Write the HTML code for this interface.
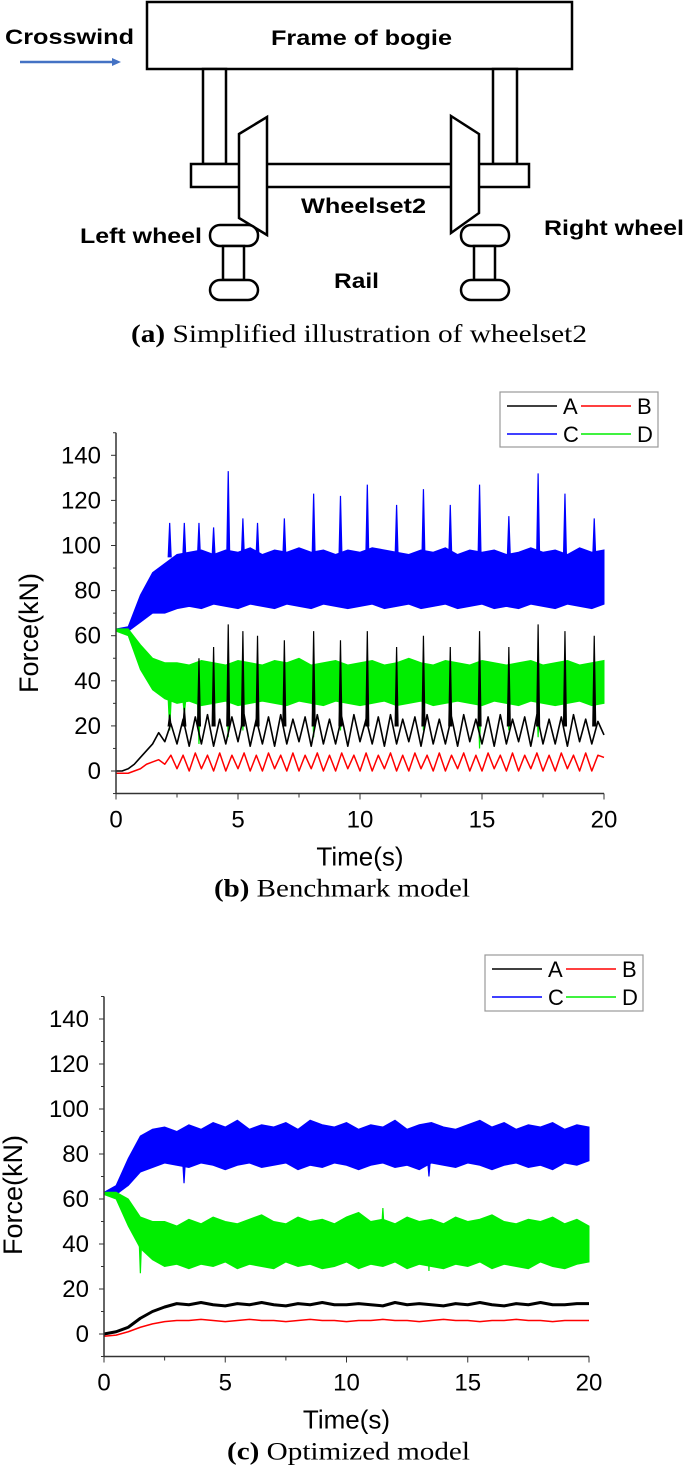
<!DOCTYPE html>
<html><head><meta charset="utf-8"><style>
body{margin:0;background:#fff}
svg text{font-family:"Liberation Sans",Arial,sans-serif}
.serif{font-family:"Liberation Serif","Times New Roman",serif}
</style></head><body>
<svg id="fig" width="685" height="1477" viewBox="0 0 685 1477" xmlns="http://www.w3.org/2000/svg">
<g fill="#fff" stroke="#000" stroke-width="2.5">
  <rect x="147" y="2" width="425" height="67"/>
  <rect x="203" y="69" width="23" height="95"/>
  <rect x="493" y="69" width="24" height="95"/>
  <rect x="191" y="164" width="338" height="23"/>
  <polygon points="239,134 267,117 267,235 239,218"/>
  <polygon points="451,116 479,134 479,213 451,233"/>
  <rect x="210" y="225" width="48" height="21" rx="10"/>
  <rect x="223" y="246" width="21" height="34"/>
  <rect x="210" y="280" width="48" height="20" rx="10"/>
  <rect x="461" y="225" width="48" height="21" rx="10"/>
  <rect x="474" y="246" width="21" height="34"/>
  <rect x="461" y="280" width="48" height="20" rx="10"/>
</g>
<line x1="20" y1="62" x2="114" y2="62" stroke="#4472c4" stroke-width="2.5"/>
<polygon points="112,58 121,62 112,66" fill="#4472c4"/>
<g font-weight="bold" font-size="21" fill="#000">
  <text x="5" y="44" textLength="129" lengthAdjust="spacingAndGlyphs">Crosswind</text>
  <text x="271" y="45" textLength="181" lengthAdjust="spacingAndGlyphs">Frame of bogie</text>
  <text x="301" y="213" textLength="125" lengthAdjust="spacingAndGlyphs">Wheelset2</text>
  <text x="80" y="243" textLength="122" lengthAdjust="spacingAndGlyphs">Left wheel</text>
  <text x="544" y="235" textLength="140" lengthAdjust="spacingAndGlyphs">Right wheel</text>
  <text x="334" y="288" textLength="45" lengthAdjust="spacingAndGlyphs">Rail</text>
</g>
<text class="serif" x="131" y="342" font-size="25" textLength="456" lengthAdjust="spacingAndGlyphs"><tspan font-weight="bold">(a)</tspan> Simplified illustration of wheelset2</text>
<g id="chartB"></g>
<g id="chartC"></g>
</svg>
<script>
// ---- Chart (b) data ----
const bTimes=[0,0.5,1,1.5,2,2.5,3,3.5,4,4.5,5,5.5,6,6.5,7,7.5,8,8.5,9,9.5,10,10.5,11,11.5,12,12.5,13,13.5,14,14.5,15,15.5,16,16.5,17,17.5,18,18.5,19,19.5,20];
const bCHigh=[63,64,78,88,92,96,97,98,96,98,97,99,96,98,97,99,97,98,96,98,97,99,98,97,96,98,97,99,96,98,97,98,96,97,99,97,98,96,99,97,98];
const bCLow=[62,62,66,70,70,72,73,72,74,73,72,74,73,72,74,73,72,74,73,72,73,74,72,73,74,72,73,74,72,73,74,72,73,72,74,73,72,74,73,72,74];
const bDHigh=[63,63,56,50,48,48,47,49,48,47,49,48,47,49,48,50,47,48,49,47,48,49,47,48,50,48,47,49,48,47,49,48,47,48,49,47,48,49,47,48,49];
const bDLow=[62,60,45,36,32,30,31,29,30,31,29,30,31,30,29,31,30,29,31,30,29,30,31,29,30,31,29,30,31,30,29,31,30,29,31,30,29,30,31,29,30];
const bSpikeTimes=[2.2,2.8,3.4,4.0,4.6,5.2,5.8,6.9,8.1,9.2,10.3,11.5,12.6,13.7,14.9,16.1,17.3,18.4,19.6];
const bCSpikes=[110,110,110,108,133,112,110,112,123,122,127,118,125,118,127,113,132,123,112];
const bASpikes=[25,28,50,55,65,62,60,58,62,58,62,55,60,55,62,55,65,62,60];
const bDSpikes=[18,25,12,20,15,18,22,20,15,18,20,22,18,20,10,18,15,20,20];
const bA=[0,0,1,3,6,9,12,17,13,21,12,23,11,24,12,25,11,23,12,24,13,25,11,23,12,24,11,25,12,23,13,24,11,25,12,23,12,24,11,25,13,23,12,24,11,25,12,23,13,24,11,25,12,23,12,24,11,25,13,23,12,24,11,25,12,23,13,24,11,25,12,23,12,24,11,25,13,23,12,22,16];
const bB=[-1,-1,-1,0,1,3,4,5,3,7,1,7,0,8,1,7,0,8,0,7,1,8,0,7,0,8,1,7,0,8,0,7,1,8,0,7,0,8,1,7,0,8,0,7,1,8,0,7,0,8,1,7,0,8,0,7,1,8,0,7,0,8,1,7,0,8,0,7,1,8,0,7,0,8,1,7,0,8,0,7,6];
// ---- Chart (c) data ----
const cTimes=bTimes;
const cA=[0,1,3,7,10,12,13.5,13,14,13,12.5,13.5,13,14,13,12.5,13.5,13,14,13,13,13.5,13,12.5,14,13,13.5,13,12.5,13.5,13,14,13,12.5,13.5,13,14,13,13,13.5,13.5];
const cB=[-1,-0.5,1,3,4.5,5.5,6,6,6.5,6,5.5,6,6.5,6,6,5.5,6,6.5,6,6,5.5,6,6,6.5,6,6,5.5,6,6.5,6,6,5.5,6,6,6.5,6,6,5.5,6,6,6];
const cCHigh=[63,66,78,88,91,92,90,93,91,94,92,95,91,93,92,94,91,95,93,92,94,91,93,92,95,91,93,94,92,91,93,95,92,94,91,93,92,94,91,93,92];
const cCLow=[62,62,66,72,74,76,75,74,76,75,73,75,76,74,75,76,73,75,74,76,75,73,75,76,74,75,73,76,75,74,76,75,73,75,76,74,75,73,76,75,77];
const cDHigh=[63,63,60,52,50,50,48,51,49,52,50,49,51,53,50,49,52,50,51,49,52,54,50,51,49,52,50,51,49,52,50,51,53,50,49,51,50,52,49,51,48];
const cDLow=[62,60,48,38,33,30,31,29,31,30,32,29,31,30,29,32,30,31,29,30,32,29,31,30,32,29,31,30,29,31,30,32,29,31,30,29,32,30,29,31,32];
const cSpikeTimes=[1.5,3.3,11.5,13.4];
const cCSpikes=[82,67,84,70];
const cDSpikes=[27,40,56,28];
const yTicks=[0,20,40,60,80,100,120,140];
const xTicks=[0,5,10,15,20];

const NS="http://www.w3.org/2000/svg";
function mk(parent,tag,attrs,text){const e=document.createElementNS(NS,tag);for(const k in attrs)e.setAttribute(k,attrs[k]);if(text!==undefined)e.textContent=text;parent.appendChild(e);return e;}

function drawChart(g,cfg){
  const X=t=>cfg.x0+(t/20)*(cfg.x1-cfg.x0);
  const Y=v=>cfg.yz-v*cfg.k;
  const axY=Y(-10), topY=Y(150);
  function band(times,hi,lo,color,name){
    let p=[];for(let i=0;i<times.length;i++)p.push(X(times[i])+','+Y(hi[i]));
    for(let i=times.length-1;i>=0;i--)p.push(X(times[i])+','+Y(lo[i]));
    const e=mk(g,'polygon',{points:p.join(' '),fill:color,stroke:color,'stroke-width':1});
    
    
  }
  function spikes(times,vals,base,color,name){
    for(let i=0;i<times.length;i++){
      const t=times[i];
      const e=mk(g,'polygon',{points:X(t-0.06)+','+Y(base)+' '+X(t)+','+Y(vals[i])+' '+X(t+0.06)+','+Y(base),fill:color,stroke:color,'stroke-width':1.2});
      
      
    }
  }
  function line(vals,color,w,name){
    const n=vals.length;let p=[];
    for(let i=0;i<n;i++)p.push(X(i*20/(n-1))+','+Y(vals[i]));
    const e=mk(g,'polyline',{points:p.join(' '),fill:'none',stroke:color,'stroke-width':w,'stroke-linejoin':'round'});
    
    
  }
  band(cfg.t,cfg.cHi,cfg.cLo,'#0000ff','series-c-band');
  spikes(cfg.st,cfg.cSp,cfg.cBase,'#0000ff','series-c-spike');
  band(cfg.t,cfg.dHi,cfg.dLo,'#00ee00','series-d-band');
  spikes(cfg.st,cfg.dSp,cfg.dBase,'#00ee00','series-d-spike');
  if(cfg.aSp)spikes(cfg.st,cfg.aSp,20,'#000','series-a-spike');
  line(cfg.a,'#000',cfg.aw,'series-a-line');
  line(cfg.b,'#ff0000',1.5,'series-b-line');
  const ya=mk(g,'line',{x1:cfg.x0,y1:topY,x2:cfg.x0,y2:axY,stroke:'#333','stroke-width':1.5});
  
  
  const xa=mk(g,'line',{x1:cfg.x0,y1:axY,x2:cfg.x1,y2:axY,stroke:'#333','stroke-width':1.5});
  
  
  for(let v=-10;v<=150;v+=10){
    const major=yTicks.indexOf(v)>=0;
    mk(g,'line',{x1:cfg.x0-(major?5:3),y1:Y(v),x2:cfg.x0,y2:Y(v),stroke:'#333','stroke-width':1});
  }
  yTicks.forEach(v=>{
    const e=mk(g,'text',{x:cfg.x0-15,y:Y(v)+8,'text-anchor':'end','font-size':24,fill:'#000'},String(v));
    
    
  });
  for(let t=0;t<=20;t+=2.5){
    const major=xTicks.indexOf(t)>=0;
    mk(g,'line',{x1:X(t),y1:axY,x2:X(t),y2:axY+(major?6:4),stroke:'#333','stroke-width':1});
  }
  xTicks.forEach(t=>{
    const e=mk(g,'text',{x:X(t),y:axY+34,'text-anchor':'middle','font-size':24,fill:'#000'},String(t));
    
    
  });
  const xt=mk(g,'text',{x:(cfg.x0+cfg.x1)/2,y:axY+72,'text-anchor':'middle','font-size':26,fill:'#000'},'Time(s)');
  
  
  const yt=mk(g,'text',{x:0,y:0,transform:'translate('+cfg.ylx+','+cfg.yly+') rotate(-90)','text-anchor':'middle','font-size':27,fill:'#000'},'Force(kN)');
  
  
  const L=cfg.leg;
  const lb=mk(g,'rect',{x:L.x,y:L.y,width:L.w,height:L.h,fill:'#fff',stroke:'#999','stroke-width':1.2});
  
  
  const ents=[['A','#000',0,0],['B','#ff0000',1,0],['C','#0000ff',0,1],['D','#00ee00',1,1]];
  ents.forEach(en=>{
    const lx=L.x+7+en[2]*74, ly=L.y+14+en[3]*28;
    mk(g,'line',{x1:lx,y1:ly,x2:lx+50,y2:ly,stroke:en[1],'stroke-width':1.5});
    const e=mk(g,'text',{x:lx+56,y:ly+8,'font-size':22,fill:'#000'},en[0]);
    
    
  });
  const cap=mk(g,'text',{x:cfg.capX,y:axY+103,'font-size':25,fill:'#000','class':'serif',textLength:cfg.capW,lengthAdjust:'spacingAndGlyphs'});
  
  
  mk(cap,'tspan',{'font-weight':'bold'},cfg.capB);
  mk(cap,'tspan',{},cfg.capT);
}
drawChart(document.getElementById('chartB'),{x0:116,x1:604,yz:771,k:2.255,t:bTimes,cHi:bCHigh,cLo:bCLow,dHi:bDHigh,dLo:bDLow,st:bSpikeTimes,cSp:bCSpikes,cBase:95,dSp:bDSpikes,dBase:32,aSp:bASpikes,a:bA,b:bB,aw:1.6,ylx:38,yly:633,leg:{x:500,y:392,w:158,h:55},capX:214,capW:256,capB:'(b)',capT:' Benchmark model'});
drawChart(document.getElementById('chartC'),{x0:104,x1:589,yz:1334,k:2.25,t:cTimes,cHi:cCHigh,cLo:cCLow,dHi:cDHigh,dLo:cDLow,st:cSpikeTimes,cSp:cCSpikes,cBase:78,dSp:cDSpikes,dBase:45,aSp:null,a:cA,b:cB,aw:3,ylx:22,yly:1195,leg:{x:485,y:955,w:158,h:56},capX:227,capW:243,capB:'(c)',capT:' Optimized model'});
</script>
</body></html>
